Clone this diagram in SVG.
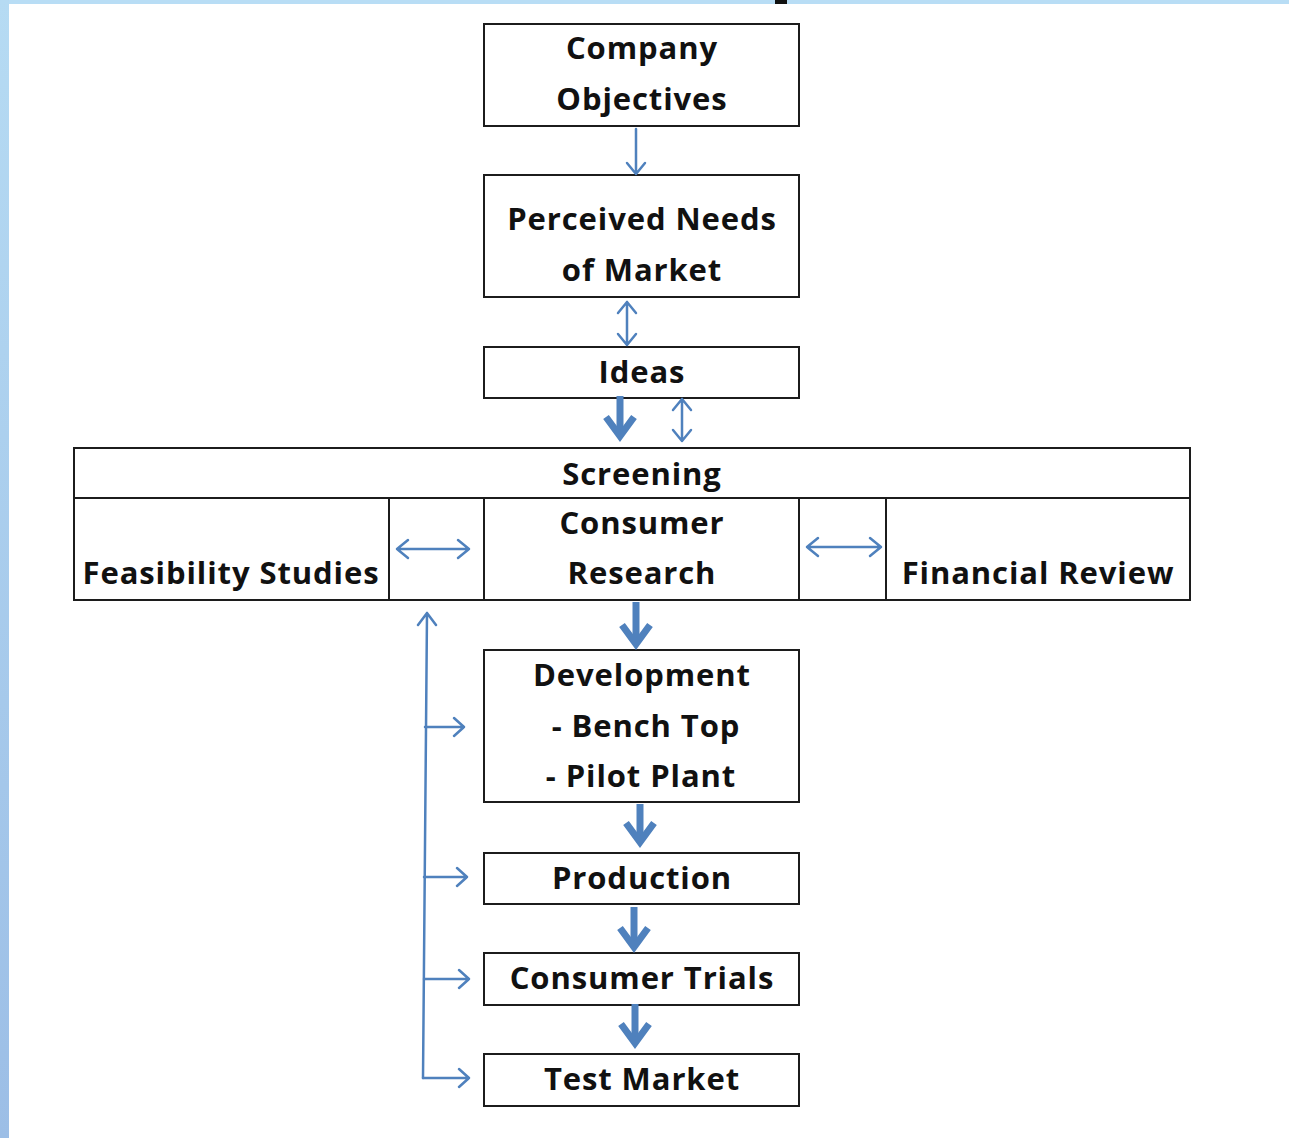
<svg xmlns="http://www.w3.org/2000/svg" width="1289" height="1138" viewBox="0 0 1289 1138">
  <defs>
    <linearGradient id="edge" x1="0" y1="0" x2="0" y2="1">
      <stop offset="0" stop-color="#b6dbf3"/>
      <stop offset="1" stop-color="#9cbee6"/>
    </linearGradient>
    <style>
      .box { fill: #ffffff; stroke: #1c1c1c; stroke-width: 2; }
      .line { fill: none; stroke: #1c1c1c; stroke-width: 2; }
      .lbl { font-family: "Open Sans", Lato, "Liberation Sans", sans-serif; font-weight: bold; font-size: 31px; letter-spacing: 0.9px; fill: #111111; text-anchor: middle; }
      .thin { fill: none; stroke: #4f81bd; stroke-width: 2.5; stroke-linecap: round; stroke-linejoin: round; }
      .thick { fill: none; stroke: #4f81bd; stroke-width: 7; stroke-linejoin: miter; }
    </style>
  </defs>

  <!-- page background and framing bands -->
  <rect x="0" y="0" width="1289" height="1138" fill="#ffffff"/>
  <rect x="0" y="0" width="1289" height="4" fill="#b8ddf5"/>
  <rect x="0" y="0" width="9" height="1138" fill="url(#edge)"/>
  <rect x="775" y="0" width="12" height="4" fill="#111111"/>

  <g id="company-objectives">
    <rect class="box" x="484" y="24" width="315" height="102"/>
    <text class="lbl" x="642" y="59">Company</text>
    <text class="lbl" x="642" y="110">Objectives</text>
  </g>

  <g id="perceived-needs">
    <rect class="box" x="484" y="175" width="315" height="122"/>
    <text class="lbl" x="642" y="230">Perceived Needs</text>
    <text class="lbl" x="642" y="281">of Market</text>
  </g>

  <g id="ideas">
    <rect class="box" x="484" y="347" width="315" height="51"/>
    <text class="lbl" x="642" y="383">Ideas</text>
  </g>

  <g id="screening">
    <rect class="box" x="74" y="448" width="1116" height="152"/>
    <line class="line" x1="74" y1="498" x2="1190" y2="498"/>
    <text class="lbl" x="642" y="485">Screening</text>
  </g>

  <g id="feasibility-studies">
    <rect class="box" x="74" y="498" width="315" height="102"/>
    <text class="lbl" x="231" y="584">Feasibility Studies</text>
  </g>

  <g id="consumer-research">
    <rect class="box" x="484" y="498" width="315" height="102"/>
    <text class="lbl" x="642" y="534">Consumer</text>
    <text class="lbl" x="642" y="584">Research</text>
  </g>

  <g id="financial-review">
    <rect class="box" x="886" y="498" width="304" height="102"/>
    <text class="lbl" x="1038" y="584">Financial Review</text>
  </g>

  <g id="development">
    <rect class="box" x="484" y="650" width="315" height="152"/>
    <text class="lbl" x="642" y="686">Development</text>
    <text class="lbl" x="646" y="737">- Bench Top</text>
    <text class="lbl" x="641" y="787">- Pilot Plant</text>
  </g>

  <g id="production">
    <rect class="box" x="484" y="853" width="315" height="51"/>
    <text class="lbl" x="642" y="889">Production</text>
  </g>

  <g id="consumer-trials">
    <rect class="box" x="484" y="953" width="315" height="52"/>
    <text class="lbl" x="642" y="989">Consumer Trials</text>
  </g>

  <g id="test-market">
    <rect class="box" x="484" y="1054" width="315" height="52"/>
    <text class="lbl" x="642" y="1090">Test Market</text>
  </g>

  <g id="connectors">
    <!-- objectives to needs -->
    <path class="thin" d="M636 129 V174 M627 163 L636 174 L645 163"/>
    <!-- needs and ideas, two-way -->
    <path class="thin" d="M627 302 V345 M618 313 L627 302 L636 313 M618 334 L627 345 L636 334"/>
    <!-- ideas into screening -->
    <path class="thick" d="M620 396 V430"/>
    <path class="thick" d="M606 417 L620 436 L634 417"/>
    <path class="thin" d="M682 399 V441 M673 410 L682 399 L691 410 M673 430 L682 441 L691 430"/>
    <!-- side reviews, two-way -->
    <path class="thin" d="M397 549 H469 M408 540 L397 549 L408 558 M458 540 L469 549 L458 558"/>
    <path class="thin" d="M807 547 H881 M818 538 L807 547 L818 556 M870 538 L881 547 L870 556"/>
    <!-- main flow -->
    <path class="thick" d="M636 602 V638"/>
    <path class="thick" d="M622 625 L636 644 L650 625"/>
    <path class="thick" d="M640 804 V836"/>
    <path class="thick" d="M626 823 L640 842 L654 823"/>
    <path class="thick" d="M634 907 V941"/>
    <path class="thick" d="M620 928 L634 947 L648 928"/>
    <path class="thick" d="M635 1004 V1037"/>
    <path class="thick" d="M621 1024 L635 1043 L649 1024"/>
    <!-- feedback rail -->
    <path class="thin" d="M423 1078 L427 613 M418 625 L427 613 L436 625"/>
    <path class="thin" d="M425 727 H464 M454 718 L464 727 L454 736"/>
    <path class="thin" d="M424 877 H467 M457 868 L467 877 L457 886"/>
    <path class="thin" d="M424 979 H469 M459 970 L469 979 L459 988"/>
    <path class="thin" d="M423 1078 H469 M459 1069 L469 1078 L459 1087"/>
  </g>
</svg>
